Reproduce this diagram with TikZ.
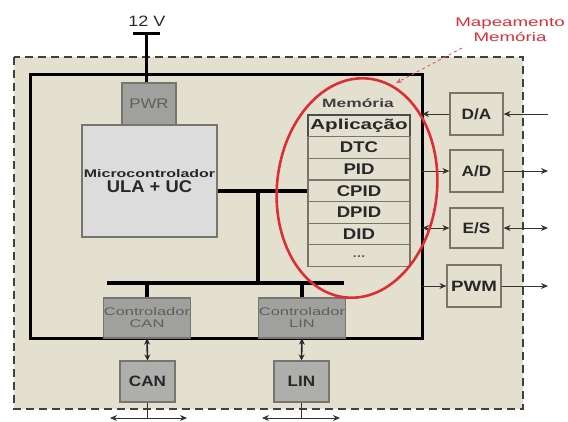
\documentclass[tikz,border=0pt]{standalone}
\usepackage{fontspec}
\setmainfont{Liberation Sans}
\usetikzlibrary{arrows.meta}
\definecolor{bg}{RGB}{228,224,208}
\definecolor{darkg}{RGB}{160,160,158}
\definecolor{lightg}{RGB}{220,220,220}
\definecolor{boxline}{RGB}{120,118,108}
\definecolor{txt}{RGB}{40,40,40}
\definecolor{gtxt}{RGB}{95,95,95}
\definecolor{redc}{RGB}{222,45,55}
\newcommand{\sx}[2]{\scalebox{#1}[1]{#2}}
\newcommand{\fs}[1]{\fontsize{#1}{#1}\selectfont}
\begin{document}
\begin{tikzpicture}[x=1pt,y=-1pt,
  graybox/.style={draw=boxline, line width=1.2pt, fill=darkg, inner sep=0pt},
  litebox/.style={draw=boxline, line width=1.2pt, fill=lightg, inner sep=0pt},
  perbox/.style={draw=boxline, line width=1.2pt, fill=bg, inner sep=0pt, minimum width=53pt, minimum height=42pt, text=txt, font=\bfseries\fs{15}},
  memrow/.style={draw=boxline, line width=1.2pt, fill=bg, inner sep=0pt, minimum width=102pt, minimum height=21.6pt, text=txt, font=\bfseries\fs{15.5}},
  bus/.style={line width=4pt, black},
  frame/.style={line width=3pt, black},
  sig/.style={line width=0.9pt, black!80, -{Stealth[length=7pt,width=6pt]}},
  sigb/.style={line width=0.9pt, black!80, {Stealth[length=7pt,width=6pt]}-{Stealth[length=7pt,width=6pt]}},
  dbl/.style={line width=1.6pt, black!85, {Stealth[length=6pt,width=6pt]}-{Stealth[length=6pt,width=6pt]}},
]
\useasboundingbox (0,0) rectangle (568,421);
% outer dashed area
\draw[fill=bg, draw=black!75, line width=2.6pt, dash pattern=on 8pt off 5pt] (14,57) rectangle (523,409);
% inner frame
\draw[frame] (30,74) rectangle (422,338);

% 12 V supply
\node[font=\fs{15}, text=txt, inner sep=0pt] (v12) at (147,21) {\sx{1.2}{12 V}};
\coordinate (vbl) at (133,33);
\coordinate (vbr) at (160,33);
\coordinate (vtop) at (146,33);
\draw[line width=3pt] (vbl) -- (vbr);

% boxes
\node[graybox, minimum width=54pt, minimum height=42pt, text=gtxt, font=\fs{14}] (pwr) at (149,104) {\sx{1.2}{PWR}};
\draw[line width=3pt] (vtop) -- (vtop |- pwr.north);
\node[litebox, minimum width=135pt, minimum height=112pt, align=center, text=txt] (micro) at (149.5,181)
  {\raisebox{0pt}{\fs{11}\bfseries\sx{1.45}{Microcontrolador}}\\[3pt]{\fs{17}\bfseries\sx{1.08}{ULA + UC}}};

% memory
\node[font=\bfseries\fs{12}, text=black!75, inner sep=0pt] (memlbl) at (358,103) {\sx{1.45}{Memória}};
\node[memrow, draw=black!70, line width=1.6pt, font=\bfseries\fs{14.5}] (apl) at (359,126) {\sx{1.42}{Aplicação}};
\node[memrow] (dtc) at (359,147.6) {\sx{1.2}{DTC}};
\node[memrow] (pid) at (359,169.2) {\sx{1.2}{PID}};
\node[memrow] (cpid) at (359,190.8) {\sx{1.2}{CPID}};
\node[memrow] (dpid) at (359,212.4) {\sx{1.2}{DPID}};
\node[memrow] (did) at (359,234) {\sx{1.2}{DID}};
\node[memrow, font=\bfseries\fs{12}, text=black!60] (dots) at (359,255.6) {\raisebox{-3pt}{\sx{1.3}{...}}};

% buses
\coordinate (bv) at (258,283);
\coordinate (bl) at (107,283);
\coordinate (br) at (344,283);
\draw[bus] (micro.east |- cpid.west) -- (cpid.west);
\draw[bus] (bv |- cpid.west) -- (bv);
\draw[bus] (bl) -- (br);

% controllers
\node[graybox, minimum width=84pt, minimum height=40pt, align=center, text=gtxt, font=\fs{11}] (ccan) at (147,318) {\sx{1.5}{Controlador}\\[1pt]\sx{1.5}{CAN}};
\node[graybox, minimum width=84pt, minimum height=40pt, align=center, text=gtxt, font=\fs{11}] (clin) at (302,318) {\sx{1.5}{Controlador}\\[1pt]\sx{1.5}{LIN}};
\draw[line width=3.5pt] (ccan.north) -- (ccan.north |- bl);
\draw[line width=3.5pt] (clin.north) -- (clin.north |- bl);

% CAN / LIN
\node[graybox, fill=darkg!85, minimum width=55pt, minimum height=41pt, text=txt, font=\bfseries\fs{15}] (can) at (147.5,381.5) {\sx{1.14}{CAN}};
\node[graybox, fill=darkg!85, minimum width=55pt, minimum height=41pt, text=txt, font=\bfseries\fs{15}] (lin) at (301.5,381.5) {\sx{1.14}{LIN}};
\draw[dbl] (ccan.south) -- (can.north);
\draw[dbl] (clin.south) -- (lin.north);
\coordinate (canl) at (110,418);
\coordinate (canr) at (187,418);
\coordinate (linl) at (262,418);
\coordinate (linr) at (340,418);
\draw[line width=0.9pt, black!80] (can.south) -- (can.south |- canl);
\draw[line width=0.9pt, black!80] (lin.south) -- (lin.south |- linl);
\draw[sigb] (canl) -- (canr);
\draw[sigb] (linl) -- (linr);

% peripherals
\node[perbox] (da) at (476.5,114) {\sx{1.15}{D/A}};
\node[perbox] (ad) at (476.5,171) {\sx{1.15}{A/D}};
\node[perbox, minimum height=40pt] (es) at (476.5,228) {\sx{1.15}{E/S}};
\node[perbox, minimum width=54pt] (pwm) at (474,286) {\sx{1.25}{PWM}};
\coordinate (daL) at (422,114);
\coordinate (daR) at (548,114);
\coordinate (adL) at (422,171);
\coordinate (adR) at (548,171);
\coordinate (esL) at (422,228);
\coordinate (esR) at (548,228);
\coordinate (pwmL) at (422,286);
\coordinate (pwmR) at (548,286);
\draw[sig] (da.west) -- (daL);
\draw[sig] (daR) -- (da.east);
\draw[sig] (adL) -- (ad.west);
\draw[sig] (ad.east) -- (adR);
\draw[sigb] (esL) -- (es.west);
\draw[sigb] (es.east) -- (esR);
\draw[sig] (pwmL) -- (pwm.west);
\draw[sig] (pwm.east) -- (pwmR);

% memory mapping highlight
\draw[redc, line width=2.6pt, rotate around={-6:(357,188)}] (357,188) ellipse [x radius=80, y radius=110];
\node[text=redc, font=\fs{12.5}, align=center, inner sep=0pt] (mapl) at (510,30)
  {\sx{1.5}{Mapeamento}\\[2pt]\sx{1.5}{Memória}};
\coordinate (maptip) at (396,83);
\coordinate (mapstart) at (462,48);
\draw[redc!80, line width=0.9pt, dashed, -{Stealth[length=6pt,width=5pt]}] (mapstart) -- (maptip);
\end{tikzpicture}
\end{document}
